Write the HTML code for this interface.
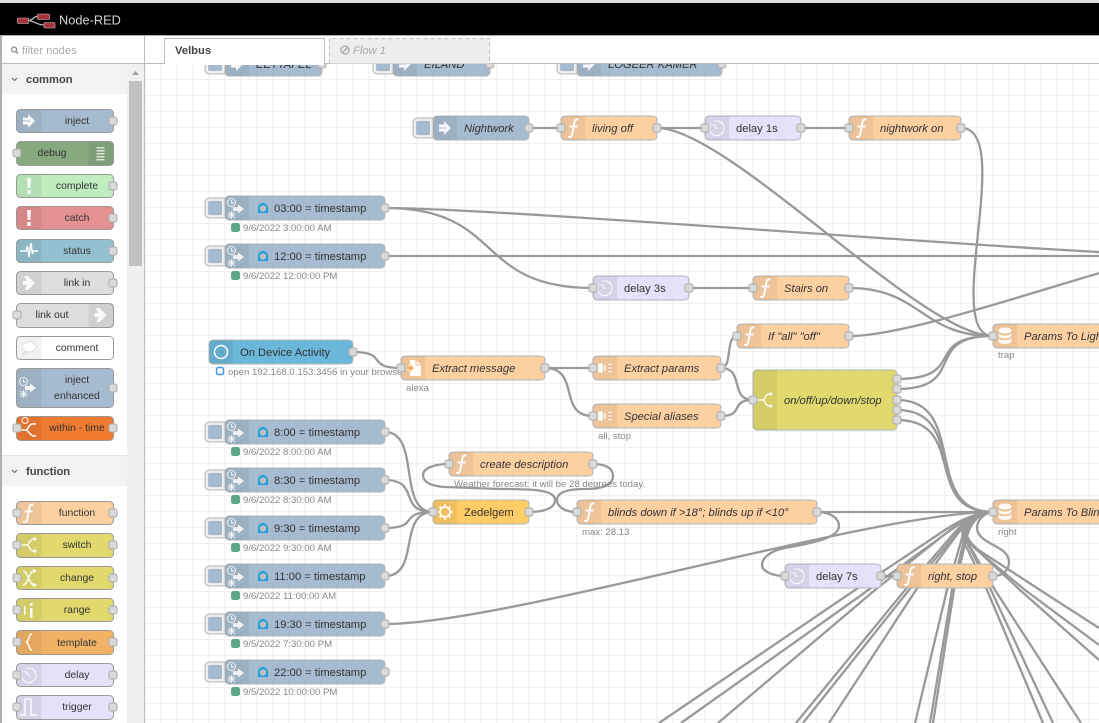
<!DOCTYPE html>
<html><head><meta charset="utf-8"><title>Node-RED</title>
<style>
html,body{margin:0;padding:0;background:#fff;overflow:hidden;width:1099px;height:723px}
svg{display:block;font-family:"Liberation Sans",Arial,sans-serif}
.n{stroke:#b4b4b4;stroke-width:1}
.pn{stroke:#999;stroke-width:1}
.t{font-size:11.2px;fill:#333}
.i{font-style:italic}
.pt{font-size:10.4px;fill:#333;text-anchor:middle}
.s{font-size:9.6px;fill:#888}
.w{fill:none;stroke:#999;stroke-width:2.3}
.cat{font-size:11.2px;font-weight:bold;fill:#444}
</style></head><body>
<svg width="1099" height="723" viewBox="0 0 1099 723" xmlns="http://www.w3.org/2000/svg">
<defs>
<pattern id="grid" x="144.3" y="63.1" width="16" height="16" patternUnits="userSpaceOnUse"><path d="M.5 0V16M0 .5H16" stroke="#eee" stroke-width="1" fill="none"/></pattern>
<rect id="p" x="-4" y="-4" width="8" height="8" rx="2" fill="#d9d9d9" stroke="#ababab" stroke-width="1"/>
<path id="pL" d="M24 0H4A4 4 0 0 0 0 4V20A4 4 0 0 0 4 24H24Z" fill="#000" opacity=".06"/>
<path id="pR" d="M-24 0H-4A4 4 0 0 1 0 4V20A4 4 0 0 1 -4 24H-24Z" fill="#000" opacity=".06"/>
<g id="btn"><rect x="-20" y="2" width="22" height="20" rx="4" fill="#eee" stroke="#b4b4b4"/><rect x="-17" y="5" width="14" height="14" rx="2" fill="#a6bbcf"/></g>
<g id="iInj"><path d="M6 8.500H11V5L18 12L11 19V15.500H6Z" fill="#fff" opacity=".9"/><path d="M6 12H13" stroke="#a6bbcf"/></g>
<g id="iTime" fill="none" stroke="#fff" opacity=".85"><circle cx="6.500" cy="6.500" r="4"/><path d="M6.500 4V7H9"/><path d="M8 11H13V8.500L19 13L13 17.500V15H8Z" fill="#fff" stroke="none"/><path d="M6.500 15V23M2.500 19H10.500M3.500 16L9.500 22M9.500 16L3.500 22" stroke-width="1"/></g>
<g id="iF" fill="none" stroke="#fff" stroke-width="1.900" opacity=".95"><path d="M17.500 3.500C14 3 13.500 5 13 8L11.500 17C11 21 9.500 21.500 7 20.500"/><path d="M8.500 10.500H16.500"/></g>
<g id="iDelay" fill="none" stroke="#fff" stroke-width="1.200" opacity=".8"><path d="M9 5.500A7.300 7.300 0 1 1 5.800 8"/><path d="M8 8L12.500 13"/></g>
<g id="iDb" fill="#fff" opacity=".9"><ellipse cx="12" cy="6.500" rx="6.500" ry="3"/><path d="M5.500 9C7 12.500 17 12.500 18.500 9V12C17 15 7 15 5.500 12ZM5.500 14C7 17 17 17 18.500 14V17.500C17 21 7 21 5.500 17.500Z"/></g>
<g id="iSw" fill="none" stroke="#fff" stroke-width="1.500" opacity=".9"><path d="M4 12H10C12 12 12 7 16 6H18M10 12C12 12 12 17 16 18H18"/><path d="M17 3.500L20 6L17 8.500ZM17 15.500L20 18L17 20.500Z" fill="#fff" stroke="none"/></g>
<g id="iCh" fill="none" stroke="#fff" stroke-width="1.500" opacity=".9"><path d="M6 5C11 5 12 19 17 19M6 19C11 19 12 5 17 5"/><path d="M16 2.500L20 5L16 7.500ZM16 16.500L20 19L16 21.500Z" fill="#fff" stroke="none"/></g>
<g id="iJs" fill="#fff" opacity=".9"><rect x="5" y="7.500" width="5" height="9"/><rect x="11" y="9" width="1.500" height="6"/><path d="M15 8h4v1h-4zM15 11.500h4v1h-4zM15 15h4v1h-4z"/></g>
<g id="iFile"><path d="M7 4H13L18 9V20H7Z" fill="#fff" opacity=".95"/><path d="M13 4V9H18" fill="none" stroke="#eec39a"/><path d="M3 10.500H7V8L11 12L7 16V13.500H3Z" fill="#f4a850" stroke="#fff" stroke-width=".5"/></g>
<g id="iLink" fill="#fff"><path d="M7 5L11 5L18 12L11 19H8L10 14H6V10H10Z" opacity=".85"/></g>
<g id="iDbg" fill="#fff" opacity=".75"><path d="M8 6h8v1.500H8zM8 9h8v1.500H8zM8 12h8v1.500H8zM8 15h8v1.500H8zM8 18h8v1.500H8z"/></g>
<g id="iEx" fill="#fff" opacity=".9"><path d="M10 4h4l-.7 10h-2.600zM10.300 16h3.400v4h-3.400z"/></g>
<g id="iSt" fill="none" stroke="#fff" stroke-width="1.500" opacity=".95"><path d="M3 12H9L10.500 7L12 18L14 4L15.500 15L16.500 12H21"/></g>
<g id="iCm" fill="none" stroke="#ddd"><ellipse cx="12" cy="11" rx="7" ry="5" fill="#fff"/><path d="M8 15L6 19L11 16"/></g>
<g id="iWi" fill="none" stroke="#fff" stroke-width="1.500"><path d="M3 14H9C11 14 11 9 15 8H19M9 14C11 14 12 18 16 20H19"/><circle cx="8" cy="4.500" r="3" stroke-width="1"/></g>
<g id="iRg" fill="#fff" opacity=".9"><path d="M7 8h1.500v9H7zM13 10h2.500v10H13zM13 5h2.500v3H13z"/></g>
<g id="iTp" fill="none" stroke="#fff" stroke-width="1.600" opacity=".9"><path d="M15 4C11 4 13 11 9 12C13 13 11 20 15 20"/></g>
<g id="iTr" fill="none" stroke="#fff" stroke-width="1.500" opacity=".9"><path d="M3 20H8V4H14V20H20"/></g>
<g id="iSun" fill="none" stroke="#fff"><circle cx="12" cy="12" r="5" stroke-width="1.700"/><path d="M12 4V6M12 18V20M4 12H6M18 12H20M6.500 6.500L8 8M16 16L17.500 17.500M17.500 6.500L16 8M8 16L6.500 17.500" stroke-width="1.700"/></g>
<g id="stamp"><path d="M0 10V5A5 5 0 0 1 10 5V10Z" fill="#1f9be0"/><circle cx="5" cy="5.500" r="3.300" fill="#bdbdbd"/></g>
</defs>

<!-- canvas -->
<rect x="145" y="64" width="954" height="659" fill="#fff"/>
<rect x="145" y="64" width="954" height="659" fill="url(#grid)"/>

<!-- wires -->
<g class="w">
<path d="M529 128H561M657 128H705M801 128H849"/>
<path d="M657 128C729 128 921 336 993 336"/>
<path d="M961 128C1016 128 941 336 993 336"/>
<path d="M385 208C505 208 1080 256 1200 256"/>
<path d="M385 208C505 208 473 288 593 288"/>
<path d="M385 256H1099"/>
<path d="M689 288H753"/>
<path d="M849 288C921 288 921 336 993 336"/>
<path d="M849 336C933 336 1166 240 1250 240"/>
<path d="M353 352C389 352 365 368 401 368"/>
<path d="M545 368H593"/>
<path d="M545 368C581 368 557 416 593 416"/>
<path d="M721 368C733 368 725 336 737 336"/>
<path d="M721 368C745 368 729 400 753 400"/>
<path d="M721 416C745 416 729 400 753 400"/>
<path d="M897 379C969 379 921 336 993 336"/>
<path d="M897 389C969 389 921 336 993 336"/>
<path d="M897 400C969 400 921 512 993 512"/>
<path d="M897 410C969 410 921 512 993 512"/>
<path d="M897 420C969 420 921 512 993 512"/>
<path d="M385 432C421 432 397 512 433 512"/>
<path d="M385 480C421 480 397 512 433 512"/>
<path d="M385 528C421 528 397 512 433 512"/>
<path d="M385 576C421 576 397 512 433 512"/>
<path d="M385 624C505 624 873 512 993 512"/>
<path d="M529 512C545 512 555 508 555 500C555 490 535 489 500 489L445 487C430 486 423 482 423 475C423 468 435 464 449 464"/>
<path d="M593 464C607 464 613 469 613 476C613 486 600 489 585 489C568 489 557 492 557 500C557 507 565 512 577 512"/>
<path d="M817 512H993"/>
<path d="M817 512C830 512 839 518 839 526C839 540 800 545 785 548C770 551 762 558 762 565C762 571 772 576 785 576"/>
<path d="M881 576H897"/>
<path d="M993 576C1003 576 1009 570 1009 562C1009 545 978 545 977 528C977 520 985 512 993 512"/>
<!-- fan from below -->
<path d="M659 723L855 590L945 530C960 520 978 512 993 512"/>
<path d="M681 723L860 596L948 532C962 522 978 512 993 512"/>
<path d="M718 723L875 590L955 526C966 518 980 512 993 512"/>
<path d="M796 723L905 590L955 532C966 520 980 512 993 512"/>
<path d="M803 723L909 590L958 532C968 520 980 512 993 512"/>
<path d="M829 723L916 590L962 528C970 518 982 512 993 512"/>
<path d="M915 723L947 590L962 538C968 520 980 512 993 512"/>
<path d="M930 723L952 590L964 540C968 522 980 512 993 512"/>
<path d="M933 723L954 590L966 540C970 522 980 512 993 512"/>
<path d="M1043 723L987 590L967 548C956 530 965 512 993 512"/>
<path d="M1053 723L991 590L970 548C958 528 968 512 993 512"/>
<path d="M1081 723L995 590L972 550C958 530 965 512 993 512"/>
<path d="M1099 660L1020 590L975 548C957 532 962 512 993 512"/>
<path d="M1099 645L1025 590L977 550C958 535 962 512 993 512"/>
<path d="M1099 628L1040 590L980 551C958 535 960 514 993 512"/>
</g>

<!-- clipped top nodes -->
<g fill="#a6bbcf">
<use href="#btn" x="225" y="52"/><rect class="n" x="225" y="52" width="97" height="24" rx="4"/><use href="#pL" x="225" y="52"/><use href="#iInj" x="225" y="52"/><text class="t i" x="256" y="68">EETTAFEL</text><use href="#p" x="322" y="64"/>
<use href="#btn" x="393" y="52"/><rect class="n" x="393" y="52" width="97" height="24" rx="4"/><use href="#pL" x="393" y="52"/><use href="#iInj" x="393" y="52"/><text class="t i" x="424" y="68">EILAND</text><use href="#p" x="490" y="64"/>
<use href="#btn" x="577" y="52"/><rect class="n" x="577" y="52" width="145" height="24" rx="4"/><use href="#pL" x="577" y="52"/><use href="#iInj" x="577" y="52"/><text class="t i" x="608" y="68">LOGEER KAMER</text><use href="#p" x="722" y="64"/>
</g>

<!-- Nightwork row -->
<use href="#btn" x="433" y="116"/><rect class="n" x="433" y="116" width="96" height="24" rx="4" fill="#a6bbcf"/><use href="#pL" x="433" y="116"/><use href="#iInj" x="433" y="116"/><text class="t i" x="464" y="132">Nightwork</text><use href="#p" x="529" y="128"/>
<rect class="n" x="561" y="116" width="96" height="24" rx="4" fill="#fdd0a2"/><use href="#pL" x="561" y="116"/><use href="#iF" x="561" y="116"/><text class="t i" x="592" y="132">living off</text><use href="#p" x="561" y="128"/><use href="#p" x="657" y="128"/>
<rect class="n" x="705" y="116" width="96" height="24" rx="4" fill="#e6e0f8"/><use href="#pL" x="705" y="116"/><use href="#iDelay" x="705" y="116"/><text class="t" x="736" y="132">delay 1s</text><use href="#p" x="705" y="128"/><use href="#p" x="801" y="128"/>
<rect class="n" x="849" y="116" width="112" height="24" rx="4" fill="#fdd0a2"/><use href="#pL" x="849" y="116"/><use href="#iF" x="849" y="116"/><text class="t i" x="880" y="132">nightwork on</text><use href="#p" x="849" y="128"/><use href="#p" x="961" y="128"/>

<!-- Timestamps -->
<use href="#btn" x="225" y="196"/><rect class="n" x="225" y="196" width="160" height="24" rx="4" fill="#a6bbcf"/><use href="#pL" x="225" y="196"/><use href="#iTime" x="225" y="196"/><use href="#stamp" x="258" y="203"/><text class="t" x="274" y="212">03:00 = timestamp</text><use href="#p" x="385" y="208"/><rect x="231" y="223" width="9" height="9" rx="2.500" fill="#5aa888"/><text class="s" x="243" y="231">9/6/2022 3:00:00 AM</text>
<use href="#btn" x="225" y="244"/><rect class="n" x="225" y="244" width="160" height="24" rx="4" fill="#a6bbcf"/><use href="#pL" x="225" y="244"/><use href="#iTime" x="225" y="244"/><use href="#stamp" x="258" y="251"/><text class="t" x="274" y="260">12:00 = timestamp</text><use href="#p" x="385" y="256"/><rect x="231" y="271" width="9" height="9" rx="2.500" fill="#5aa888"/><text class="s" x="243" y="279">9/6/2022 12:00:00 PM</text>
<use href="#btn" x="225" y="420"/><rect class="n" x="225" y="420" width="160" height="24" rx="4" fill="#a6bbcf"/><use href="#pL" x="225" y="420"/><use href="#iTime" x="225" y="420"/><use href="#stamp" x="258" y="427"/><text class="t" x="274" y="436">8:00 = timestamp</text><use href="#p" x="385" y="432"/><rect x="231" y="447" width="9" height="9" rx="2.500" fill="#5aa888"/><text class="s" x="243" y="455">9/6/2022 8:00:00 AM</text>
<use href="#btn" x="225" y="468"/><rect class="n" x="225" y="468" width="160" height="24" rx="4" fill="#a6bbcf"/><use href="#pL" x="225" y="468"/><use href="#iTime" x="225" y="468"/><use href="#stamp" x="258" y="475"/><text class="t" x="274" y="484">8:30 = timestamp</text><use href="#p" x="385" y="480"/><rect x="231" y="495" width="9" height="9" rx="2.500" fill="#5aa888"/><text class="s" x="243" y="503">9/6/2022 8:30:00 AM</text>
<use href="#btn" x="225" y="516"/><rect class="n" x="225" y="516" width="160" height="24" rx="4" fill="#a6bbcf"/><use href="#pL" x="225" y="516"/><use href="#iTime" x="225" y="516"/><use href="#stamp" x="258" y="523"/><text class="t" x="274" y="532">9:30 = timestamp</text><use href="#p" x="385" y="528"/><rect x="231" y="543" width="9" height="9" rx="2.500" fill="#5aa888"/><text class="s" x="243" y="551">9/6/2022 9:30:00 AM</text>
<use href="#btn" x="225" y="564"/><rect class="n" x="225" y="564" width="160" height="24" rx="4" fill="#a6bbcf"/><use href="#pL" x="225" y="564"/><use href="#iTime" x="225" y="564"/><use href="#stamp" x="258" y="571"/><text class="t" x="274" y="580">11:00 = timestamp</text><use href="#p" x="385" y="576"/><rect x="231" y="591" width="9" height="9" rx="2.500" fill="#5aa888"/><text class="s" x="243" y="599">9/6/2022 11:00:00 AM</text>
<use href="#btn" x="225" y="612"/><rect class="n" x="225" y="612" width="160" height="24" rx="4" fill="#a6bbcf"/><use href="#pL" x="225" y="612"/><use href="#iTime" x="225" y="612"/><use href="#stamp" x="258" y="619"/><text class="t" x="274" y="628">19:30 = timestamp</text><use href="#p" x="385" y="624"/><rect x="231" y="639" width="9" height="9" rx="2.500" fill="#5aa888"/><text class="s" x="243" y="647">9/5/2022 7:30:00 PM</text>
<use href="#btn" x="225" y="660"/><rect class="n" x="225" y="660" width="160" height="24" rx="4" fill="#a6bbcf"/><use href="#pL" x="225" y="660"/><use href="#iTime" x="225" y="660"/><use href="#stamp" x="258" y="667"/><text class="t" x="274" y="676">22:00 = timestamp</text><use href="#p" x="385" y="672"/><rect x="231" y="687" width="9" height="9" rx="2.500" fill="#5aa888"/><text class="s" x="243" y="695">9/5/2022 10:00:00 PM</text>

<!-- Stairs row -->
<rect class="n" x="593" y="276" width="96" height="24" rx="4" fill="#e6e0f8"/><use href="#pL" x="593" y="276"/><use href="#iDelay" x="593" y="276"/><text class="t" x="624" y="292">delay 3s</text><use href="#p" x="593" y="288"/><use href="#p" x="689" y="288"/>
<rect class="n" x="753" y="276" width="96" height="24" rx="4" fill="#fdd0a2"/><use href="#pL" x="753" y="276"/><use href="#iF" x="753" y="276"/><text class="t i" x="784" y="292">Stairs on</text><use href="#p" x="753" y="288"/><use href="#p" x="849" y="288"/>
<rect class="n" x="737" y="324" width="112" height="24" rx="4" fill="#fdd0a2"/><use href="#pL" x="737" y="324"/><use href="#iF" x="737" y="324"/><text class="t i" x="768" y="340">If "all" "off"</text><use href="#p" x="737" y="336"/><use href="#p" x="849" y="336"/>

<!-- Device activity -->
<rect class="n" x="209" y="340" width="144" height="24" rx="4" fill="#6ab7d9"/><use href="#pL" x="209" y="340"/><circle cx="221" cy="352" r="6.500" fill="none" stroke="#fff" stroke-width="1.500"/><text class="t" x="240" y="356">On Device Activity</text><use href="#p" x="353" y="352"/>
<rect x="216.500" y="367.500" width="7" height="7" rx="2" fill="#fff" stroke="#3b9ae0" stroke-width="1.500"/><text class="s" x="228" y="375">open 192.168.0.153:3456 in your browser</text>
<rect class="n" x="401" y="356" width="144" height="24" rx="4" fill="#fdd0a2"/><use href="#pL" x="401" y="356"/><use href="#iFile" x="403" y="356"/><text class="t i" x="432" y="372">Extract message</text><use href="#p" x="401" y="368"/><use href="#p" x="545" y="368"/><text class="s" x="406" y="391">alexa</text>
<rect class="n" x="593" y="356" width="128" height="24" rx="4" fill="#fdd0a2"/><use href="#pL" x="593" y="356"/><use href="#iJs" x="593" y="356"/><text class="t i" x="624" y="372">Extract params</text><use href="#p" x="593" y="368"/><use href="#p" x="721" y="368"/>
<rect class="n" x="593" y="404" width="128" height="24" rx="4" fill="#fdd0a2"/><use href="#pL" x="593" y="404"/><use href="#iJs" x="593" y="404"/><text class="t i" x="624" y="420">Special aliases</text><use href="#p" x="593" y="416"/><use href="#p" x="721" y="416"/><text class="s" x="598" y="439">all, stop</text>

<!-- switch -->
<rect class="n" x="753" y="370" width="144" height="60" rx="4" fill="#e2d96e"/><path d="M777 370H757A4 4 0 0 0 753 374V426A4 4 0 0 0 757 430H777Z" opacity=".06"/><use href="#iSw" x="753" y="388"/><text class="t i" x="784" y="404">on/off/up/down/stop</text><use href="#p" x="753" y="400"/><use href="#p" x="897" y="379"/><use href="#p" x="897" y="389"/><use href="#p" x="897" y="400"/><use href="#p" x="897" y="410"/><use href="#p" x="897" y="420"/>

<!-- Params -->
<rect class="n" x="993" y="324" width="200" height="24" rx="4" fill="#fdd0a2"/><use href="#pL" x="993" y="324"/><use href="#iDb" x="993" y="324"/><text class="t i" x="1024" y="340">Params To Lights</text><use href="#p" x="993" y="336"/><text class="s" x="998" y="358">trap</text>
<rect class="n" x="993" y="500" width="200" height="24" rx="4" fill="#fdd0a2"/><use href="#pL" x="993" y="500"/><use href="#iDb" x="993" y="500"/><text class="t i" x="1024" y="516">Params To Blinds</text><use href="#p" x="993" y="512"/><text class="s" x="998" y="535">right</text>

<!-- weather -->
<rect class="n" x="449" y="452" width="144" height="24" rx="4" fill="#fdd0a2"/><use href="#pL" x="449" y="452"/><use href="#iF" x="449" y="452"/><text class="t i" x="480" y="468">create description</text><use href="#p" x="449" y="464"/><use href="#p" x="593" y="464"/><text class="s" x="454" y="487">Weather forecast: it will be 28 degrees today.</text>
<rect class="n" x="433" y="500" width="96" height="24" rx="4" fill="#ffcc66"/><use href="#pL" x="433" y="500"/><use href="#iSun" x="433" y="500"/><text class="t" x="464" y="516">Zedelgem</text><use href="#p" x="433" y="512"/><use href="#p" x="529" y="512"/>
<rect class="n" x="577" y="500" width="240" height="24" rx="4" fill="#fdd0a2"/><use href="#pL" x="577" y="500"/><use href="#iF" x="577" y="500"/><text class="t i" x="608" y="516">blinds down if &gt;18°; blinds up if &lt;10°</text><use href="#p" x="577" y="512"/><use href="#p" x="817" y="512"/><text class="s" x="582" y="535">max: 28.13</text>
<rect class="n" x="785" y="564" width="96" height="24" rx="4" fill="#e6e0f8"/><use href="#pL" x="785" y="564"/><use href="#iDelay" x="785" y="564"/><text class="t" x="816" y="580">delay 7s</text><use href="#p" x="785" y="576"/><use href="#p" x="881" y="576"/>
<rect class="n" x="897" y="564" width="96" height="24" rx="4" fill="#fdd0a2"/><use href="#pL" x="897" y="564"/><use href="#iF" x="897" y="564"/><text class="t i" x="928" y="580">right, stop</text><use href="#p" x="897" y="576"/><use href="#p" x="993" y="576"/>

<!-- tab bar -->
<rect x="145" y="36" width="954" height="28" fill="#fff"/>
<path d="M145 63.500H1099" stroke="#bbb"/>
<path d="M164.500 64V38.500H324.500V64" fill="#fff" stroke="#bbb"/>
<rect x="165" y="60" width="159" height="5" fill="#fff"/>
<text x="175" y="54" font-size="11.200" font-weight="bold" fill="#444">Velbus</text>
<path d="M329.500 63.500V38.500H489.500V63.500" fill="#eee" stroke="#bbb" stroke-dasharray="4 3"/>
<circle cx="345" cy="50" r="4" fill="none" stroke="#aaa" stroke-width="1.300"/><path d="M342 53L348 47" stroke="#aaa" stroke-width="1.300"/>
<text x="353" y="54" font-size="11.200" font-style="italic" fill="#aaa">Flow 1</text>

<!-- header -->
<rect x="0" y="0" width="1099" height="3" fill="#e0e0e0"/>
<rect x="0" y="3" width="1099" height="32" fill="#000"/>
<rect x="0" y="35" width="1099" height="1" fill="#aaa"/>
<path d="M28 20.500C33 20.500 33 16.500 37 16.500M28 20.500C33 20.500 37 25 44 25" fill="none" stroke="#bbb" stroke-width="1.300"/>
<rect x="17.500" y="18" width="11" height="5.500" rx="1" fill="#a8323c" stroke="#ccc" stroke-width=".6"/>
<rect x="37.500" y="14" width="12" height="5.500" rx="1" fill="#a8323c" stroke="#ccc" stroke-width=".6"/>
<rect x="44" y="22.500" width="11" height="5.500" rx="1" fill="#a8323c" stroke="#ccc" stroke-width=".6"/>
<text x="59" y="24.500" font-size="12.800" fill="#d4d4d4">Node-RED</text>

<!-- sidebar -->
<rect x="0" y="36" width="2" height="687" fill="#b0b0b0"/>
<rect x="2" y="36" width="142" height="687" fill="#fff"/>
<rect x="144" y="36" width="1" height="687" fill="#bbb"/>
<rect x="2" y="63" width="142" height="1" fill="#bbb"/>
<circle cx="14" cy="49.500" r="2.500" fill="none" stroke="#888" stroke-width="1.200"/><path d="M16 51.500L18 53.500" stroke="#888" stroke-width="1.400"/>
<text x="22" y="54" font-size="11.200" fill="#aaa">filter nodes</text>
<rect x="127" y="64" width="17" height="659" fill="#f0f0f0"/>
<path d="M132 75L135.500 71L139 75Z" fill="#a0a0a0"/>
<rect x="129" y="81" width="13" height="185" fill="#c1c1c1"/>
<rect x="2" y="64" width="125" height="30" fill="#f3f3f3"/>
<path d="M12 78L14.500 80.500L17 78" fill="none" stroke="#666"/>
<text class="cat" x="26" y="83">common</text>
<rect x="2" y="440" width="125" height="45" fill="#fff"/>
<rect x="2" y="456" width="125" height="30" fill="#f3f3f3"/>
<path d="M2 455.500H127" stroke="#e4e4e4"/>
<path d="M12 470L14.500 472.500L17 470" fill="none" stroke="#666"/>
<text class="cat" x="26" y="475">function</text>

<!-- palette nodes -->
<g>
<rect class="pn" x="16.500" y="109.500" width="97" height="23" rx="4" fill="#a6bbcf"/><rect x="17" y="110" width="24.500" height="22" fill="#000" opacity=".06"/><use href="#iInj" x="17" y="109"/><text class="pt" x="77" y="124">inject</text><use href="#p" x="113" y="121"/>
<rect class="pn" x="16.500" y="141.500" width="97" height="24" rx="4" fill="#87a980"/><rect x="88.500" y="142" width="24.500" height="23" fill="#000" opacity=".06"/><use href="#iDbg" x="88.500" y="141"/><text class="pt" x="52" y="156">debug</text><use href="#p" x="17" y="153"/>
<rect class="pn" x="16.500" y="174.500" width="97" height="23" rx="4" fill="#c0edc0"/><rect x="17" y="175" width="24.500" height="22" fill="#000" opacity=".06"/><use href="#iEx" x="17" y="174"/><text class="pt" x="77" y="189">complete</text><use href="#p" x="113" y="186"/>
<rect class="pn" x="16.500" y="206.500" width="97" height="23" rx="4" fill="#e49191"/><rect x="17" y="207" width="24.500" height="22" fill="#000" opacity=".06"/><use href="#iEx" x="17" y="206"/><text class="pt" x="77" y="221">catch</text><use href="#p" x="113" y="218"/>
<rect class="pn" x="16.500" y="239.500" width="97" height="23" rx="4" fill="#94c1d0"/><rect x="17" y="240" width="24.500" height="22" fill="#000" opacity=".06"/><use href="#iSt" x="17" y="239"/><text class="pt" x="77" y="254">status</text><use href="#p" x="113" y="251"/>
<rect class="pn" x="16.500" y="271.500" width="97" height="23" rx="4" fill="#ddd"/><rect x="17" y="272" width="24.500" height="22" fill="#000" opacity=".06"/><use href="#iLink" x="17" y="271"/><text class="pt" x="77" y="286">link in</text><use href="#p" x="113" y="283"/>
<rect class="pn" x="16.500" y="303.500" width="97" height="24" rx="4" fill="#ddd"/><rect x="88.500" y="304" width="24.500" height="23" fill="#000" opacity=".06"/><use href="#iLink" x="88.500" y="303"/><text class="pt" x="52" y="318">link out</text><use href="#p" x="17" y="315"/>
<rect class="pn" x="16.500" y="336.500" width="97" height="23" rx="4" fill="#fff"/><rect x="17" y="337" width="24.500" height="22" fill="#000" opacity=".05"/><use href="#iCm" x="17" y="336"/><text class="pt" x="77" y="351">comment</text>
<rect class="pn" x="16.500" y="368.500" width="97" height="39" rx="4" fill="#a6bbcf"/><rect x="17" y="369" width="24.500" height="38" fill="#000" opacity=".06"/><use href="#iTime" x="17" y="375"/><text class="pt" x="77" y="383">inject</text><text class="pt" x="77" y="399">enhanced</text><use href="#p" x="113" y="388"/>
<rect class="pn" x="16.500" y="416.500" width="97" height="24" rx="4" fill="#f07b31"/><rect x="17" y="417" width="24.500" height="23" fill="#000" opacity=".06"/><use href="#iWi" x="17" y="416"/><text class="pt" x="77" y="431">within - time</text><use href="#p" x="17" y="428"/><use href="#p" x="113" y="428"/>

<rect class="pn" x="16.500" y="501.500" width="97" height="23" rx="4" fill="#fdd0a2"/><rect x="17" y="502" width="24.500" height="22" fill="#000" opacity=".06"/><use href="#iF" x="16" y="501"/><text class="pt" x="77" y="516">function</text><use href="#p" x="17" y="513"/><use href="#p" x="113" y="513"/>
<rect class="pn" x="16.500" y="533.500" width="97" height="24" rx="4" fill="#e2d96e"/><rect x="17" y="534" width="24.500" height="23" fill="#000" opacity=".06"/><use href="#iSw" x="17" y="533"/><text class="pt" x="77" y="548">switch</text><use href="#p" x="17" y="545"/><use href="#p" x="113" y="545"/>
<rect class="pn" x="16.500" y="566.500" width="97" height="23" rx="4" fill="#e2d96e"/><rect x="17" y="567" width="24.500" height="22" fill="#000" opacity=".06"/><use href="#iCh" x="17" y="566"/><text class="pt" x="77" y="581">change</text><use href="#p" x="17" y="578"/><use href="#p" x="113" y="578"/>
<rect class="pn" x="16.500" y="598.500" width="97" height="23" rx="4" fill="#e2d96e"/><rect x="17" y="599" width="24.500" height="22" fill="#000" opacity=".06"/><use href="#iRg" x="17" y="598"/><text class="pt" x="77" y="613">range</text><use href="#p" x="17" y="610"/><use href="#p" x="113" y="610"/>
<rect class="pn" x="16.500" y="630.500" width="97" height="24" rx="4" fill="#f2b266"/><rect x="17" y="631" width="24.500" height="23" fill="#000" opacity=".06"/><use href="#iTp" x="17" y="630"/><text class="pt" x="77" y="646">template</text><use href="#p" x="17" y="642"/><use href="#p" x="113" y="642"/>
<rect class="pn" x="16.500" y="663.500" width="97" height="23" rx="4" fill="#e6e0f8"/><rect x="17" y="664" width="24.500" height="22" fill="#000" opacity=".06"/><use href="#iDelay" x="17" y="663"/><text class="pt" x="77" y="678">delay</text><use href="#p" x="17" y="675"/><use href="#p" x="113" y="675"/>
<rect class="pn" x="16.500" y="695.500" width="97" height="24" rx="4" fill="#e6e0f8"/><rect x="17" y="696" width="24.500" height="23" fill="#000" opacity=".06"/><use href="#iTr" x="17" y="695"/><text class="pt" x="77" y="710">trigger</text><use href="#p" x="17" y="707"/><use href="#p" x="113" y="707"/>
</g>
</svg>
</body></html>
